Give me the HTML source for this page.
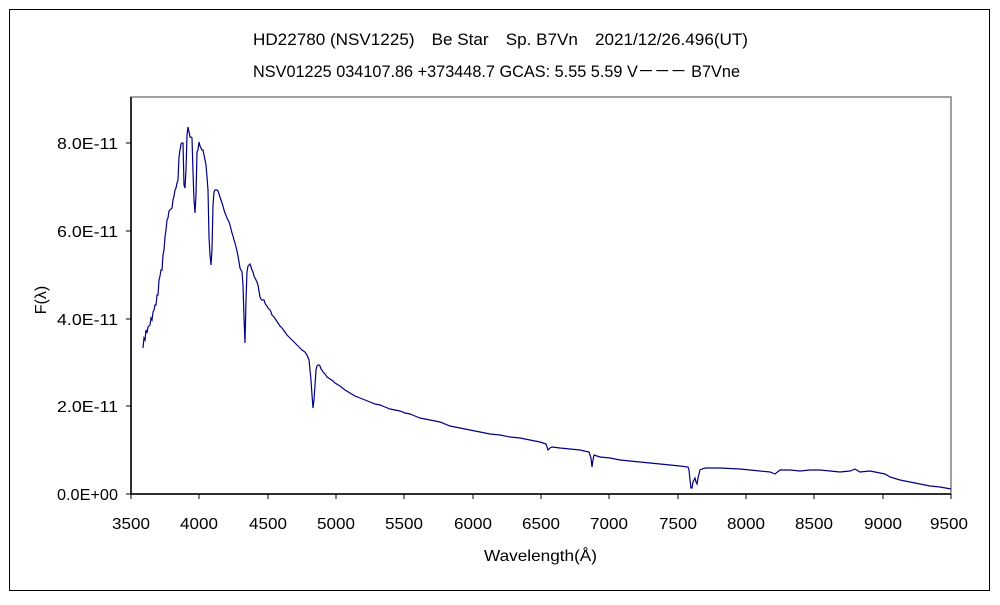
<!DOCTYPE html>
<html><head><meta charset="utf-8"><style>
body{margin:0;background:#fff;}
svg text{font-family:"Liberation Sans","Noto Sans CJK JP",sans-serif;fill:#000;}
</style></head><body>
<svg width="1000" height="600" xmlns="http://www.w3.org/2000/svg">
<rect x="9.5" y="9.5" width="980" height="581" fill="#fff" stroke="#000" stroke-width="1"/>
<text x="253" y="45" font-size="17" textLength="495" lengthAdjust="spacingAndGlyphs">HD22780 (NSV1225)　Be Star　Sp. B7Vn　2021/12/26.496(UT)</text>
<text x="253" y="77" font-size="17" textLength="487" lengthAdjust="spacingAndGlyphs">NSV01225 034107.86 +373448.7 GCAS: 5.55 5.59 V－－－ B7Vne</text>
<rect x="131" y="97" width="820" height="397" fill="none" stroke="#808080" stroke-width="1.5"/>
<line x1="131" y1="97" x2="131" y2="494" stroke="#000" stroke-width="1.5"/>
<line x1="131" y1="494" x2="951" y2="494" stroke="#000" stroke-width="1.5"/>
<g stroke="#000" stroke-width="1">
<line x1="126" y1="143" x2="131" y2="143"/><line x1="126" y1="231" x2="131" y2="231"/><line x1="126" y1="319" x2="131" y2="319"/><line x1="126" y1="406" x2="131" y2="406"/><line x1="126" y1="494" x2="131" y2="494"/>
<line x1="131" y1="494" x2="131" y2="499"/><line x1="199" y1="494" x2="199" y2="499"/><line x1="268" y1="494" x2="268" y2="499"/><line x1="336" y1="494" x2="336" y2="499"/><line x1="404" y1="494" x2="404" y2="499"/><line x1="473" y1="494" x2="473" y2="499"/><line x1="541" y1="494" x2="541" y2="499"/><line x1="609" y1="494" x2="609" y2="499"/><line x1="678" y1="494" x2="678" y2="499"/><line x1="746" y1="494" x2="746" y2="499"/><line x1="814" y1="494" x2="814" y2="499"/><line x1="883" y1="494" x2="883" y2="499"/><line x1="951" y1="494" x2="951" y2="499"/>
</g>
<g font-size="16">
<text x="57" y="149" textLength="61" lengthAdjust="spacingAndGlyphs">8.0E-11</text>
<text x="57" y="237" textLength="61" lengthAdjust="spacingAndGlyphs">6.0E-11</text>
<text x="57" y="325" textLength="61" lengthAdjust="spacingAndGlyphs">4.0E-11</text>
<text x="57" y="412" textLength="61" lengthAdjust="spacingAndGlyphs">2.0E-11</text>
<text x="57" y="500" textLength="61" lengthAdjust="spacingAndGlyphs">0.0E+00</text>
</g>
<g font-size="16">
<text x="112" y="529" textLength="38" lengthAdjust="spacingAndGlyphs">3500</text>
<text x="180" y="529" textLength="38" lengthAdjust="spacingAndGlyphs">4000</text>
<text x="249" y="529" textLength="38" lengthAdjust="spacingAndGlyphs">4500</text>
<text x="317" y="529" textLength="38" lengthAdjust="spacingAndGlyphs">5000</text>
<text x="385" y="529" textLength="38" lengthAdjust="spacingAndGlyphs">5500</text>
<text x="454" y="529" textLength="38" lengthAdjust="spacingAndGlyphs">6000</text>
<text x="522" y="529" textLength="38" lengthAdjust="spacingAndGlyphs">6500</text>
<text x="590" y="529" textLength="38" lengthAdjust="spacingAndGlyphs">7000</text>
<text x="659" y="529" textLength="38" lengthAdjust="spacingAndGlyphs">7500</text>
<text x="727" y="529" textLength="38" lengthAdjust="spacingAndGlyphs">8000</text>
<text x="795" y="529" textLength="38" lengthAdjust="spacingAndGlyphs">8500</text>
<text x="864" y="529" textLength="38" lengthAdjust="spacingAndGlyphs">9000</text>
<text x="930" y="529" textLength="38" lengthAdjust="spacingAndGlyphs">9500</text>
</g>
<text x="484" y="561" font-size="16" textLength="113" lengthAdjust="spacingAndGlyphs">Wavelength(Å)</text>
<text transform="translate(46,300) rotate(-90)" font-size="16" text-anchor="middle">F(λ)</text>
<polyline fill="none" stroke="#000080" stroke-width="1.2" points="143,348 144,338 145,340 146,330 147,333 148,327 150,325 151,318 152,320 153,312 154,310 155,305 156,305 157,295 158,295 159,280 160,276 161,270 162,270 163,255 164,250 165,237 166,230 167,220 168,218 169,211 170,210 171,209 172,208 173,200 174,196 175,190 176,188 177,183 178,180 179,157 180,150 181,144 182,143 183,143 184,185 185,188 186,170 187,135 188,127 189,132 190,137 191,137 192,138 193,172 194,200 195,213 196,195 197,152 198,150 199,142 200,146 201,148 202,150 203,150 204,155 205,160 206,165 207,177 208,190 209,237 210,255 211,265 212,250 213,205 214,192 215,190 216,190 217,190 218,191 219,194 220,197 221,200 222,203 223,206 224,210 225,213 227,218 229,222 230,225 231,229 232,233 233,236 234,240 235,243 236,247 237,251 238,256 239,262 240,268 241,270 242,272 243,285 244,318 245,343 246,300 247,272 248,266 249,265 250,264 251,267 252,270 253,272 254,276 255,278 256,280 257,282 258,285 259,291 260,297 261,299 262,300 263,300 264,300 265,303 266,305 267,306 268,308 269,309 270,310 271,312 272,315 274,317 276,320 278,323 280,326 282,328 285,332 287,335 290,338 292,340 295,343 298,346 300,348 302,350 305,352 307,355 309,360 310,370 311,380 312,395 313,408 314,400 315,385 316,370 317,366 318,365 319,365 320,366 321,369 322,370 323,372 325,374 327,377 330,379 333,381 335,383 340,386 345,390 350,393 355,396 360,398 365,400 370,402 375,404 380,405 385,407 390,409 395,410 400,411 405,413 410,414 415,416 420,418 425,419 430,420 440,422 450,426 460,428 470,430 480,432 490,434 500,435 510,437 520,438 530,440 540,442 546,444 548,450 550,448 552,447 560,448 570,449 580,450 589,452 591,458 592,467 593,460 594,455 600,457 610,458 620,460 630,461 640,462 650,463 660,464 670,465 680,466 688,467 689,470 690,480 691,488 692,488 693,482 694,480 695,478 696,482 697,484 698,478 700,470 702,469 705,468 720,468 740,469 760,471 770,472 775,474 780,470 790,470 800,471 810,470 820,470 830,471 840,472 850,471 855,469 860,472 870,471 875,472 880,473 885,474 890,477 900,480 910,482 920,484 930,486 940,487 951,489"/>
</svg>
</body></html>
